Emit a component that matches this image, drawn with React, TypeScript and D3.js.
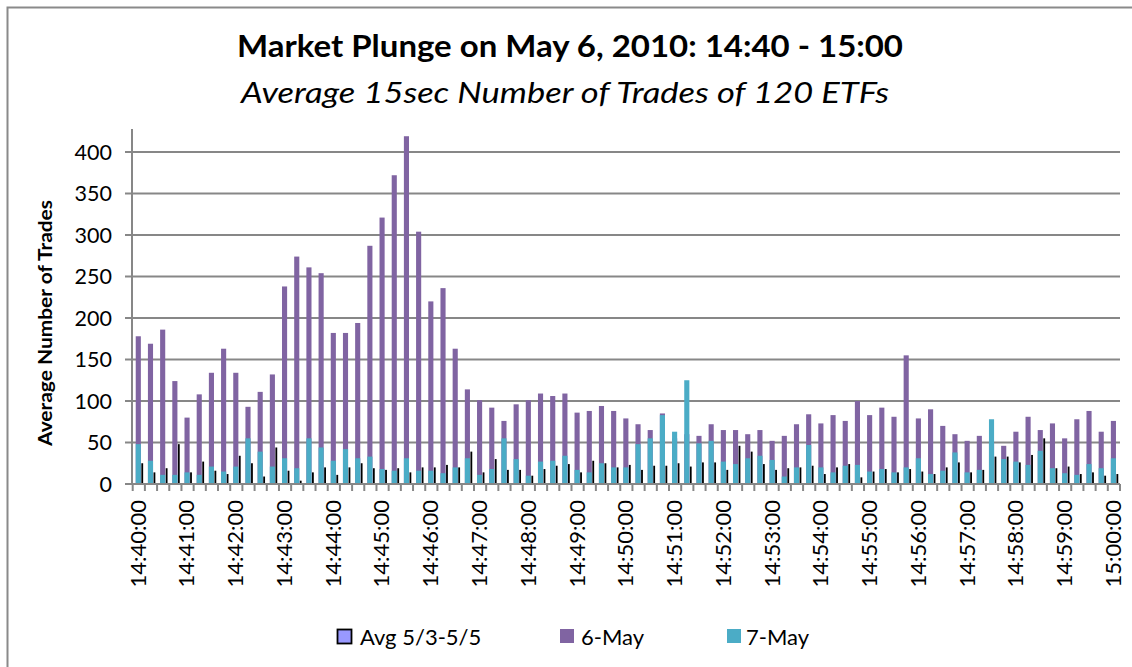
import React from "react";
import * as d3 from "d3";

const times = [
  "14:40:00","14:40:15","14:40:30","14:40:45","14:41:00","14:41:15","14:41:30","14:41:45",
  "14:42:00","14:42:15","14:42:30","14:42:45","14:43:00","14:43:15","14:43:30","14:43:45",
  "14:44:00","14:44:15","14:44:30","14:44:45","14:45:00","14:45:15","14:45:30","14:45:45",
  "14:46:00","14:46:15","14:46:30","14:46:45","14:47:00","14:47:15","14:47:30","14:47:45",
  "14:48:00","14:48:15","14:48:30","14:48:45","14:49:00","14:49:15","14:49:30","14:49:45",
  "14:50:00","14:50:15","14:50:30","14:50:45","14:51:00","14:51:15","14:51:30","14:51:45",
  "14:52:00","14:52:15","14:52:30","14:52:45","14:53:00","14:53:15","14:53:30","14:53:45",
  "14:54:00","14:54:15","14:54:30","14:54:45","14:55:00","14:55:15","14:55:30","14:55:45",
  "14:56:00","14:56:15","14:56:30","14:56:45","14:57:00","14:57:15","14:57:30","14:57:45",
  "14:58:00","14:58:15","14:58:30","14:58:45","14:59:00","14:59:15","14:59:30","14:59:45",
  "15:00:00",
];

const avgSeries = [
  25,14,19,48,14,27,16,12,34,25,
  9,44,16,4,14,20,11,20,25,19,
  17,19,14,20,20,23,20,39,14,30,
  17,17,10,18,22,24,14,28,25,20,
  23,17,22,22,25,21,26,26,17,46,
  39,24,17,19,20,22,12,20,24,8,
  15,18,14,18,15,12,20,26,14,17,
  33,33,26,35,55,19,21,12,14,10,
  12,
];

const may6 = [
  178,169,186,124,80,108,134,163,134,93,
  111,132,238,274,261,254,182,182,194,287,
  321,372,419,304,220,236,163,114,101,92,
  76,96,101,109,106,109,86,88,94,88,
  79,72,65,85,55,60,58,72,65,65,
  60,65,52,58,72,84,73,83,76,100,
  83,92,81,155,79,90,70,60,52,58,
  50,46,63,81,65,73,55,78,88,63,
  76,
];

const may7 = [
  48,28,11,11,14,11,21,15,21,55,
  39,21,31,19,55,44,28,42,31,33,
  18,16,31,16,16,13,20,31,11,18,
  55,30,10,27,28,34,17,14,25,20,
  20,48,55,83,63,125,49,52,27,24,
  31,34,29,9,20,47,20,14,22,23,
  15,18,14,20,31,12,16,38,14,17,
  78,30,27,23,40,19,13,11,24,19,
  31,
];

const yTicks = [0, 50, 100, 150, 200, 250, 300, 350, 400];
const legendLabels = ["Avg 5/3-5/5", "6-May", "7-May"];

const W = 1132;
const H = 667;
const FONT = "Lato, 'Open Sans', sans-serif";
const GRID = "#878787";
const C6 = "#8064a2";
const C7 = "#4bacc6";
const CAVG = "#9999ff";

export default function App() {
  const x = d3.scaleBand<string>().domain(times).range([132.7, 1120]).padding(0);
  const y = d3.scaleLinear().domain([0, 400]).range([484, 152]);
  const bw = x.bandwidth();
  const w = bw * 0.42;

  return (
    <div style={{ position: "absolute", left: 0, top: 0 }}>
      <svg width={W} height={H} style={{ display: "block", background: "#fff" }}>
        <rect x={7.5} y={7.5} width={W + 20} height={H + 20} fill="#fff" stroke="#8a8a8a" strokeWidth={2} />

        {/* title */}
        <text x={570} y={57} textAnchor="middle" fontFamily={FONT} fontWeight="bold" fontSize={30}
          textLength={666} lengthAdjust="spacingAndGlyphs" fill="#000">
          Market Plunge on May 6, 2010: 14:40 - 15:00
        </text>
        <text x={565} y={103} textAnchor="middle" fontFamily={FONT} fontStyle="italic" fontSize={29}
          textLength={648} lengthAdjust="spacingAndGlyphs" fill="#000">
          Average 15sec Number of Trades of 120 ETFs
        </text>

        {/* gridlines */}
        {yTicks.filter((t) => t > 0).map((t) => (
          <line key={"g" + t} x1={132} x2={1120} y1={y(t)} y2={y(t)} stroke={GRID} strokeWidth={2} />
        ))}

        {/* y axis */}
        <line x1={132} x2={132} y1={129} y2={485} stroke={GRID} strokeWidth={2} />
        {yTicks.map((t) => (
          <g key={"yt" + t}>
            <line x1={125} x2={132} y1={y(t)} y2={y(t)} stroke={GRID} strokeWidth={2} />
            <text x={112} y={y(t)} dy="0.36em" textAnchor="end" fontFamily={FONT} fontSize={21.5} fill="#000">
              {t}
            </text>
          </g>
        ))}
        <text transform="translate(52,323) rotate(-90)" textAnchor="middle" fontFamily={FONT} fontWeight="bold"
          fontSize={19} textLength={246} lengthAdjust="spacingAndGlyphs" fill="#000">
          Average Number of Trades
        </text>

        {/* bars */}
        {times.map((t, i) => {
          const cx = (x(t) as number) + bw / 2 - 0.5;
          const x0 = cx - w / 2;
          const ya = y(avgSeries[i]);
          const y6 = y(may6[i]);
          const y7 = y(may7[i]);
          return (
            <g key={"b" + t}>
              <rect x={x0 + 1.5} y={ya} width={w} height={484 - ya} fill="#ededf5" />
              <rect x={x0 + w + 0.5} y={ya} width={1.8} height={484 - ya} fill="#000" />
              <rect x={x0} y={y6} width={w} height={484 - y6} fill={C6} />
              <rect x={x0} y={y7} width={w} height={484 - y7} fill={C7} />
            </g>
          );
        })}

        {/* x axis */}
        <line x1={132} x2={1120} y1={484} y2={484} stroke={GRID} strokeWidth={2} />
        {times.map((t) => (
          <line key={"xt" + t} x1={x(t) as number} x2={x(t) as number} y1={484} y2={491} stroke={GRID} strokeWidth={2} />
        ))}
        <line x1={1120} x2={1120} y1={484} y2={491} stroke={GRID} strokeWidth={2} />
        {times.map((t, i) =>
          i % 4 === 0 ? (
            <text key={"xl" + t} transform={`translate(${(x(t) as number) + bw / 2 - 1},500) rotate(-90)`}
              dy="0.36em" textAnchor="end" fontFamily={FONT} fontSize={22} fill="#000">
              {t}
            </text>
          ) : null
        )}

        {/* legend */}
        <rect x={337.5} y={629.5} width={14} height={14} fill={CAVG} stroke="#000" strokeWidth={1.8} />
        <text x={360} y={645} fontFamily={FONT} fontSize={22} fill="#000">{legendLabels[0]}</text>
        <rect x={560} y={629} width={14} height={14} fill={C6} />
        <text x={581} y={645} fontFamily={FONT} fontSize={22} fill="#000">{legendLabels[1]}</text>
        <rect x={727} y={629} width={14} height={14} fill={C7} />
        <text x={746} y={645} fontFamily={FONT} fontSize={22} fill="#000">{legendLabels[2]}</text>
      </svg>
    </div>
  );
}
